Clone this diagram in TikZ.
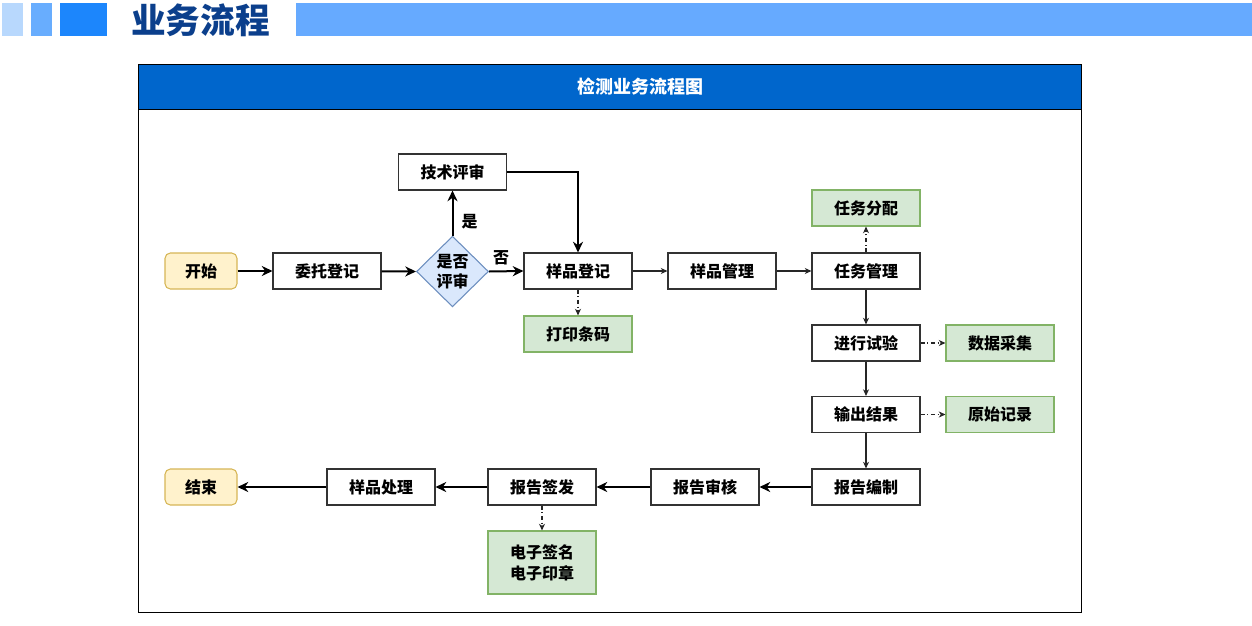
\documentclass[tikz,border=0pt]{standalone}
\usepackage{fontspec}
\setmainfont{Noto Sans CJK SC}
\usetikzlibrary{arrows.meta,shapes.geometric}
\definecolor{sqa}{HTML}{B8D8FD}
\definecolor{sqb}{HTML}{68ADFE}
\definecolor{sqc}{HTML}{1C86FC}
\definecolor{barc}{HTML}{66AAFF}
\definecolor{titc}{HTML}{0B3F8C}
\definecolor{headc}{HTML}{0066CC}
\definecolor{yfill}{HTML}{FFF2CC}
\definecolor{ydraw}{HTML}{D6B656}
\definecolor{gfill}{HTML}{D5E8D4}
\definecolor{gdraw}{HTML}{82B366}
\definecolor{bfill}{HTML}{DAE8FC}
\definecolor{bdraw}{HTML}{6C8EBF}
\tikzset{
  box/.style={draw=black!80, line width=0.8pt, fill=white, minimum width=81pt, minimum height=27pt, inner sep=0pt, font=\bfseries\fontsize{12}{14}\selectfont},
  ybox/.style={box, draw=ydraw, fill=yfill, rounded corners=4pt, minimum width=54pt},
  gbox/.style={box, draw=gdraw, fill=gfill},
  thick arrow/.style={line width=1.5pt, -{Stealth[length=8pt,width=7.5pt,inset=2.5pt]}},
  thin arrow/.style={line width=0.8pt, draw=black!85, -{Stealth[length=5pt,width=4.5pt,inset=1.5pt]}},
  dd arrow/.style={thin arrow, dash pattern=on 3pt off 2pt on 0.8pt off 2pt},
  lbl/.style={font=\bfseries\fontsize{12}{14}\selectfont, inner sep=0pt}
}
\begin{document}
\begin{tikzpicture}[x=0.75pt,y=-0.75pt]
\useasboundingbox (0,0) rectangle (1252,625);
% header
\fill[sqa] (2,3) rectangle (23,36);
\fill[sqb] (31,3) rectangle (52,36);
\fill[sqc] (60,3) rectangle (107,36);
\fill[barc] (296,3) rectangle (1252,36);
\node[anchor=center, inner sep=0pt, text=titc, font=\bfseries\fontsize{26}{28}\selectfont] (title) at (200.5,20) {业务流程};
% frame
\fill[headc] (138,64) rectangle (1081,109);
\draw[line width=0.75pt] (138,64) rectangle (1081,612);
\draw[line width=0.75pt] (138,109) -- (1081,109);
\node[text=white, font=\bfseries\fontsize{13.5}{15}\selectfont, inner sep=0pt] (ftitle) at (640,87) {检测业务流程图};
% nodes
\node[ybox] (start) at (201,271) {开始};
\node[box] (wt) at (327,271) {委托登记};
\node[diamond, draw=bdraw, fill=bfill, line width=0.8pt, minimum width=54pt, minimum height=53pt, inner sep=0pt] (dec) at (452.5,271.5) {};
\node[lbl, align=center, font=\bfseries\fontsize{12}{15}\selectfont] (dectext) at (452.5,271.5) {是否\\评审};
\node[box] (tech) at (452.5,172) {技术评审};
\node[box] (reg) at (578,271) {样品登记};
\node[gbox] (print) at (578,334) {打印条码};
\node[box] (smgr) at (722,271) {样品管理};
\node[box] (tmgr) at (866,271) {任务管理};
\node[gbox] (tdist) at (866,208) {任务分配};
\node[box] (test) at (866,343) {进行试验};
\node[gbox] (data) at (1000,343) {数据采集};
\node[box] (out) at (866,414.5) {输出结果};
\node[gbox] (raw) at (1000,414.5) {原始记录};
\node[box] (rep) at (866,487) {报告编制};
\node[box] (aud) at (705,487) {报告审核};
\node[box] (sign) at (542,487) {报告签发};
\node[box] (disp) at (381,487) {样品处理};
\node[ybox] (end) at (201,487) {结束};
\node[gbox, minimum height=47.25pt, align=center, font=\bfseries\fontsize{12}{16}\selectfont] (esig) at (542,562.5) {电子签名\\电子印章};
% connectors
\draw[thick arrow] (start) -- (wt);
\draw[thick arrow] (wt) -- (dec.west);
\draw[thick arrow] (dec.north) -- node[lbl, right=6pt, pos=0.32] (yes) {是} (tech.south);
\draw[thick arrow] (dec.east) -- node[lbl, above=4pt, pos=0.35] (no) {否} (reg.west);
\draw[thick arrow] (tech.east) -| (reg.north);
\draw[dd arrow] (reg) -- (print);
\draw[thin arrow] (reg) -- (smgr);
\draw[thin arrow] (smgr) -- (tmgr);
\draw[dd arrow] (tmgr) -- (tdist);
\draw[thin arrow] (tmgr) -- (test);
\draw[dd arrow] (test) -- (data);
\draw[thin arrow] (test) -- (out);
\draw[dd arrow] (out) -- (raw);
\draw[thin arrow] (out) -- (rep);
\draw[thick arrow] (rep) -- (aud);
\draw[thick arrow] (aud) -- (sign);
\draw[thick arrow] (sign) -- (disp);
\draw[thick arrow] (disp) -- (end);
\draw[dd arrow] (sign) -- (esig);
\end{tikzpicture}
\end{document}
